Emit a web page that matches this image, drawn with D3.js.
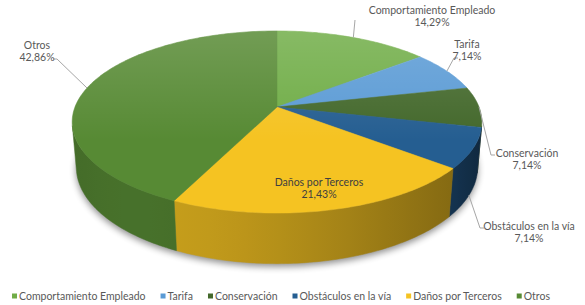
<!DOCTYPE html>
<html>
<head>
<meta charset="utf-8">
<script src="https://cdn.jsdelivr.net/npm/d3@7"></script>
<style>
  body { margin: 0; background: #fff; }
  svg { display: block; }
  text { font-family: Lato, 'Liberation Sans', sans-serif; fill: #595959; }
</style>
</head>
<body>
<svg id="chart" width="585" height="305"></svg>
<script>
const categories = ['Comportamiento Empleado', 'Tarifa', 'Conservación', 'Obstáculos en la vía', 'Daños por Terceros', 'Otros'];
const values = [14.29, 7.14, 7.14, 7.14, 21.43, 42.86];
const percentLabels = ['14,29%', '7,14%', '7,14%', '7,14%', '21,43%', '42,86%'];
const colors = ['#70AD47', '#5B9BD5', '#43682B', '#255E91', '#F5C322', '#578A34'];

// label placement (Excel lets you drag these around, so they are layout, not data)
const labelLayout = [
    { x: 432, y: 10, leader: [[355, 20]], level: 0 },
    { x: 467, y: 44, leader: [[458, 58], [454, 58]], level: 0 },
    { x: 527, y: 153, leader: [[495, 155], [491, 155]], level: 0 },
    { x: 529, y: 226, leader: [[484, 228], [480, 228]], level: 1 },
    { x: 319, y: 182, leader: null, level: 0 },
    { x: 37, y: 45, leader: [[53, 59], [57, 59]], level: 0 },
];

const FONT = 10.5;
const VIEW = { cx: 277, cy: 107, f: 1101, d: 5.45, tilt: 26 * Math.PI / 180, h: 0.25 };
const sinT = Math.sin(VIEW.tilt);
const cosT = Math.cos(VIEW.tilt);

// angle is clockwise from the back of the disk, level 0 = top face, 1 = bottom
function project(angle, level, r = 1) {
    const x = r * Math.sin(angle);
    const z = -r * Math.cos(angle);
    const y = -VIEW.h * level;
    const depth = VIEW.d - y * sinT - z * cosT;
    return [VIEW.cx + VIEW.f * x / depth, VIEW.cy - VIEW.f * (y * cosT - z * sinT) / depth];
}

function arcPoints(a0, a1, level) {
    const n = Math.max(2, Math.ceil(Math.abs(a1 - a0) / (Math.PI / 180)));
    return d3.range(n + 1).map(i => project(a0 + (a1 - a0) * i / n, level));
}

const svg = d3.select('#chart');
const defs = svg.append('defs');
const line = d3.line();
const pie = d3.pie().sort(null).value(d => d);
const arcs = pie(values);

// side faces facing the camera
const limit = Math.acos(-1 / (VIEW.d * cosT));
const sideFrom = limit;
const sideTo = 2 * Math.PI - limit;

// light comes from the front left
const shade = d3.scaleLinear().domain([-1, 1]).range([0.32, 0.82]);
const sideColor = (c, a) => d3.interpolateRgb('#000', c)(shade(Math.cos(a - 1.25 * Math.PI)));

// soft shadow under the pie
const blur = defs.append('filter').attr('id', 'blur')
    .attr('x', '-20%').attr('y', '-20%').attr('width', '140%').attr('height', '140%');
blur.append('feGaussianBlur').attr('stdDeviation', 3.5);

svg.append('path')
    .attr('d', line(arcPoints(0, 2 * Math.PI, 1)) + 'Z')
    .attr('transform', 'translate(0,3)')
    .attr('fill', '#000')
    .attr('opacity', 0.45)
    .attr('filter', 'url(#blur)');

const sides = svg.append('g');
arcs.forEach((a, i) => {
    const s = Math.max(a.startAngle, sideFrom);
    const e = Math.min(a.endAngle, sideTo);
    if (e <= s) return;
    const top = arcPoints(s, e, 0);
    const bottom = arcPoints(e, s, 1);
    const x0 = project(s, 0)[0];
    const x1 = project(e, 0)[0];
    const grad = defs.append('linearGradient')
        .attr('id', 'side' + i)
        .attr('gradientUnits', 'userSpaceOnUse')
        .attr('x1', x0).attr('x2', x1).attr('y1', 0).attr('y2', 0);
    d3.range(9).forEach(k => {
        const t = k / 8;
        grad.append('stop')
            .attr('offset', t)
            .attr('stop-color', sideColor(colors[i], s + (e - s) * t));
    });
    sides.append('path')
        .attr('d', line(top.concat(bottom)) + 'Z')
        .attr('fill', 'url(#side' + i + ')')
        .attr('stroke', `url(#side${i})`)
        .attr('stroke-width', 0.5);
});

// top face
const centre = project(0, 0, 0);
const tops = svg.append('g');
arcs.forEach((a, i) => {
    tops.append('path')
        .attr('d', line([centre].concat(arcPoints(a.startAngle, a.endAngle, 0))) + 'Z')
        .attr('fill', colors[i])
        .attr('stroke', colors[i])
        .attr('stroke-width', 0.5);
});

const sheen = defs.append('linearGradient').attr('id', 'sheen')
    .attr('x1', 0).attr('x2', 0).attr('y1', 0).attr('y2', 1);
sheen.append('stop').attr('offset', 0).attr('stop-color', '#fff').attr('stop-opacity', 0.16);
sheen.append('stop').attr('offset', 0.6).attr('stop-color', '#fff').attr('stop-opacity', 0);
tops.append('path')
    .attr('d', line(arcPoints(0, 2 * Math.PI, 0)) + 'Z')
    .attr('fill', 'url(#sheen)');

// data labels
const labels = svg.append('g').attr('font-size', FONT);
arcs.forEach((a, i) => {
    const lay = labelLayout[i];
    if (lay.leader) {
        const mid = (a.startAngle + a.endAngle) / 2;
        labels.append('path')
            .attr('d', line(lay.leader.concat([project(mid, lay.level)])))
            .attr('fill', 'none')
            .attr('stroke', '#a6a6a6')
            .attr('stroke-width', 1);
    }
    const t = labels.append('text')
        .attr('text-anchor', 'middle')
        .style('fill', i === 4 ? '#404040' : '#595959');
    t.append('tspan').attr('x', lay.x).attr('y', lay.y).attr('dy', '0.35em').text(categories[i]);
    t.append('tspan').attr('x', lay.x).attr('y', lay.y + 12.5).attr('dy', '0.35em').text(percentLabels[i]);
});

// legend
const legend = svg.append('g').attr('font-size', FONT);
const items = categories.map((c, i) => {
    const g = legend.append('g');
    g.append('rect').attr('width', 5).attr('height', 5).attr('y', -2.5).attr('fill', colors[i]);
    const txt = g.append('text').attr('x', 7).attr('dy', '0.35em').text(c);
    return { g, w: 7 + txt.node().getComputedTextLength() };
});
const gap = 15;
const total = d3.sum(items, d => d.w) + gap * (items.length - 1);
let lx = 281 - total / 2;
items.forEach(it => {
    it.g.attr('transform', `translate(${lx},296)`);
    lx += it.w + gap;
});
</script>
</body>
</html>
